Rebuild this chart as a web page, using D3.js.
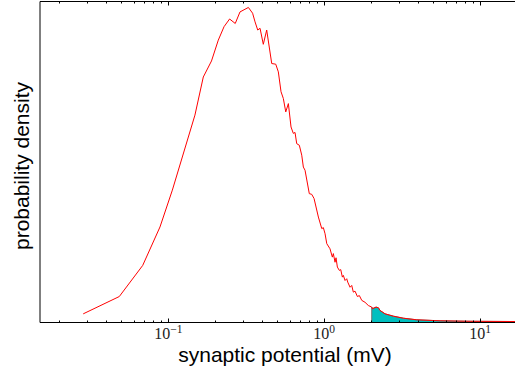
<!DOCTYPE html>
<html><head><meta charset="utf-8">
<script src="https://cdn.jsdelivr.net/npm/d3@7"></script>
<style>body{margin:0;background:#fff} svg{display:block}</style>
</head><body>
<svg id="chart" width="515" height="376"></svg>
<script>
// Synaptic potential histogram (mV) and its probability density (arbitrary units)
const potential = [0.0284, 0.0484, 0.0684, 0.0883, 0.106, 0.148, 0.1675, 0.189, 0.209, 0.2275,
  0.247, 0.2685, 0.288, 0.326, 0.347, 0.3597, 0.3743, 0.3873, 0.4064, 0.4273,
  0.4603, 0.4884, 0.5075, 0.5281, 0.5464, 0.5663, 0.5885, 0.6121, 0.6333, 0.6494,
  0.666, 0.6921, 0.7172, 0.7344, 0.753, 0.802, 0.831, 0.86, 0.917, 0.964,
  0.987, 1.012, 1.038, 1.089, 1.127, 1.144, 1.173, 1.19, 1.214, 1.25,
  1.276, 1.307, 1.326, 1.36, 1.394, 1.415, 1.464, 1.501, 1.537, 1.576,
  1.632, 1.68, 1.741, 1.827, 1.919, 2.018, 2.039, 2.15, 2.225, 2.281,
  2.457, 2.777, 3.22, 3.924, 5.538, 8.626, 16.8];
const density = [0.027, 0.081, 0.178, 0.298, 0.413, 0.647, 0.766, 0.816, 0.881, 0.923,
  0.947, 0.933, 0.969, 0.983, 0.965, 0.938, 0.9125, 0.918, 0.868, 0.9125,
  0.808, 0.806, 0.782, 0.72, 0.699, 0.657, 0.683, 0.61, 0.59, 0.593,
  0.558, 0.553, 0.522, 0.485, 0.475, 0.402, 0.4, 0.387, 0.329, 0.293,
  0.296, 0.277, 0.246, 0.23, 0.204, 0.215, 0.188, 0.202, 0.173, 0.1625,
  0.165, 0.1416, 0.147, 0.131, 0.1366, 0.126, 0.11, 0.1156, 0.0947, 0.0978,
  0.081, 0.084, 0.069, 0.063, 0.053, 0.048, 0.043, 0.048, 0.046, 0.0375,
  0.027, 0.0197, 0.0134, 0.0084, 0.0053, 0.0038, 0.003];
// shaded tail: potentials above this threshold (mV)
const tailStart = 2;

const majorTicks = [0.1, 1, 10];
const tickExponents = ["\u22121", "0", "1"];
const minorMultipliers = [2, 3, 4, 5, 6, 7, 8, 9];
const xLabel = "synaptic potential (mV)";
const yLabel = "probability density";

const svg = d3.select("#chart");
const x = d3.scaleLog().domain([0.015, 20]).range([40, 527]);
const y = d3.scaleLinear().domain([0, 1]).range([322.5, 2]);

const points = potential.map((v, i) => ({v, d: density[i]}));

svg.append("defs").append("clipPath").attr("id", "plot")
  .append("rect").attr("x", 40).attr("y", 1.5).attr("width", 487).attr("height", 321);

const plot = svg.append("g").attr("clip-path", "url(#plot)");

// shaded tail area
const tail = points.filter(p => p.v >= tailStart);
plot.append("path")
  .datum(tail)
  .attr("d", d3.area().x(p => x(p.v)).y0(y(0)).y1(p => y(p.d)))
  .attr("fill", "#00bfbf")
  .attr("stroke", "#6e6e6e")
  .attr("stroke-width", 1);

// density curve
plot.append("path")
  .datum(points)
  .attr("d", d3.line().x(p => x(p.v)).y(p => y(p.d)))
  .attr("fill", "none")
  .attr("stroke", "#ff0000")
  .attr("stroke-width", 1);

// minor + major ticks, drawn inward from bottom and top spines
const [d0, d1] = x.domain();
const minorTicks = [];
for (let e = Math.floor(Math.log10(d0)); e <= Math.ceil(Math.log10(d1)); e++) {
  minorMultipliers.forEach(m => {
    const t = m * Math.pow(10, e);
    if (t >= d0 && t <= d1) minorTicks.push(t);
  });
}
const ticks = svg.append("g").attr("stroke", "#000").attr("stroke-width", 1);
minorTicks.forEach(t => {
  const px = Math.round(x(t)) + 0.5;
  ticks.append("line").attr("x1", px).attr("x2", px).attr("y1", 322.5).attr("y2", 320.5);
  ticks.append("line").attr("x1", px).attr("x2", px).attr("y1", 1.5).attr("y2", 3.5);
});
majorTicks.forEach(t => {
  const px = Math.round(x(t)) + 0.5;
  ticks.append("line").attr("x1", px).attr("x2", px).attr("y1", 322.5).attr("y2", 318.5);
  ticks.append("line").attr("x1", px).attr("x2", px).attr("y1", 1.5).attr("y2", 5.5);
});

// spines
svg.append("line").attr("x1", 40).attr("x2", 40).attr("y1", 1.5).attr("y2", 322.5)
  .attr("stroke", "#000").attr("stroke-width", 1);
svg.append("line").attr("x1", 40).attr("x2", 527).attr("y1", 1.5).attr("y2", 1.5)
  .attr("stroke", "#000").attr("stroke-width", 1);
svg.append("line").attr("x1", 40).attr("x2", 527).attr("y1", 322.5).attr("y2", 322.5)
  .attr("stroke", "#000").attr("stroke-width", 1);

// tick labels: 10^n
majorTicks.forEach((t, i) => {
  const lbl = svg.append("text")
    .attr("x", x(t)).attr("y", 339)
    .attr("text-anchor", "middle")
    .attr("font-family", "'Liberation Serif', serif")
    .attr("font-size", 16)
    .attr("fill", "#222");
  lbl.append("tspan").text("10");
  lbl.append("tspan").attr("dy", -6).attr("font-size", 11.5).text(tickExponents[i]);
});

// axis titles
svg.append("text")
  .attr("x", 285).attr("y", 362)
  .attr("text-anchor", "middle")
  .attr("font-family", "'Liberation Sans', Arial, sans-serif")
  .attr("font-size", 21)
  .attr("fill", "#000")
  .text(xLabel);

svg.append("text")
  .attr("transform", "translate(29,166) rotate(-90)")
  .attr("text-anchor", "middle")
  .attr("font-family", "'Liberation Sans', Arial, sans-serif")
  .attr("font-size", 21)
  .attr("fill", "#000")
  .text(yLabel);
</script>
</body></html>
